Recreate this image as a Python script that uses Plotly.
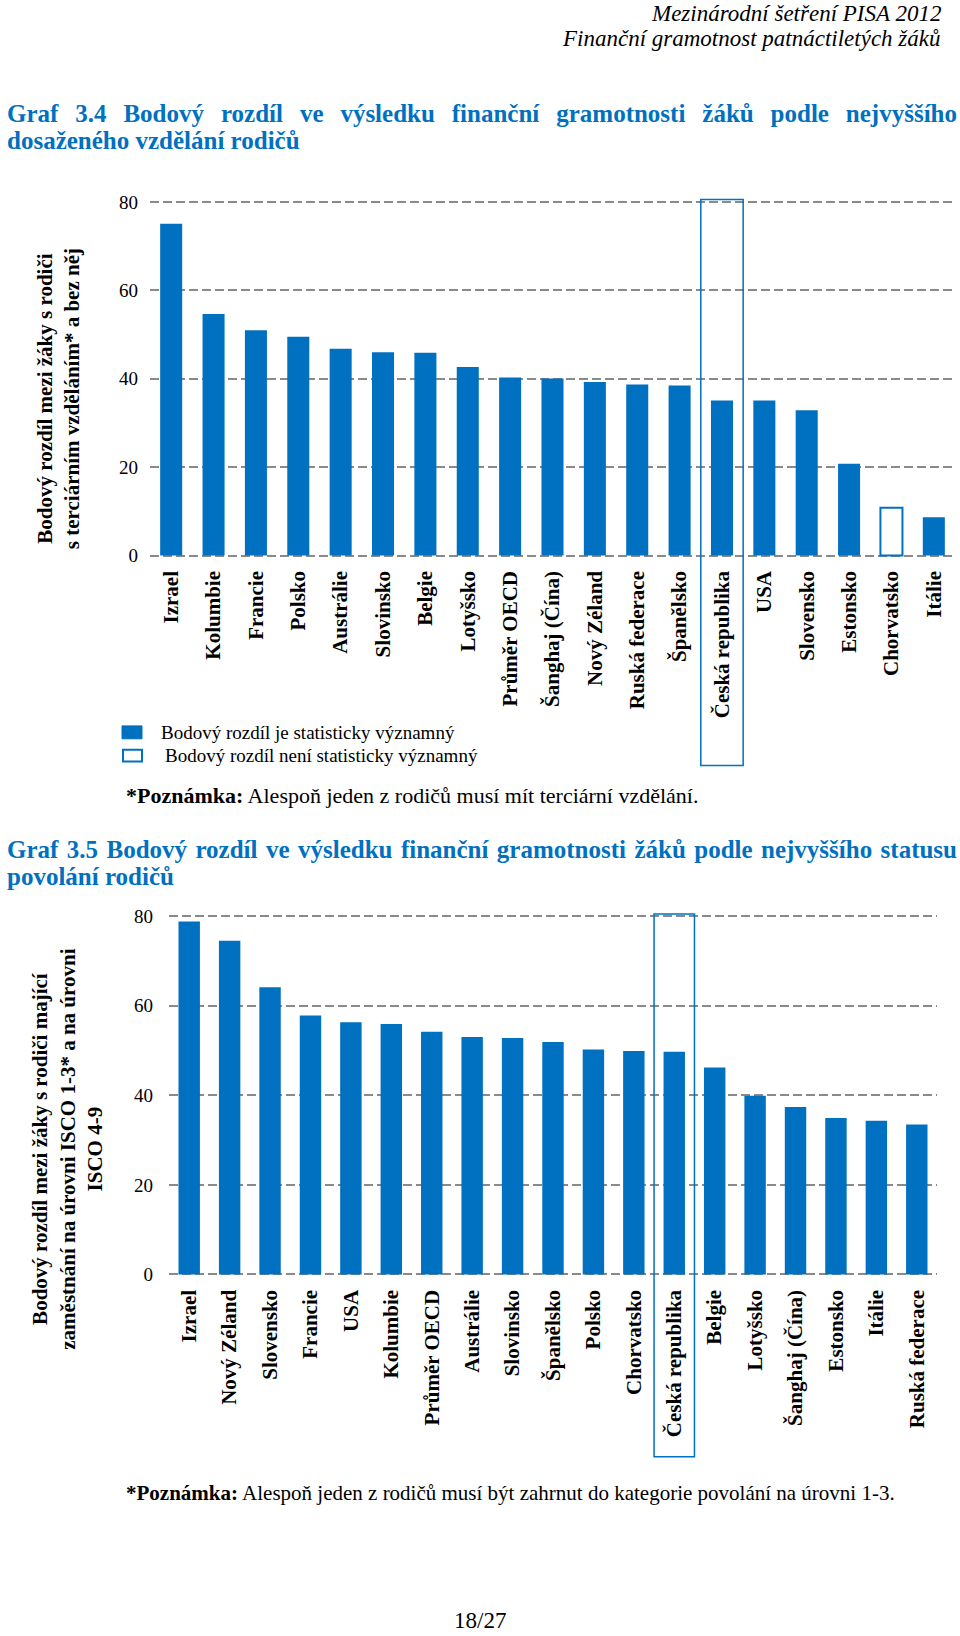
import plotly.graph_objects as go

W, H = 960, 1636
BLUE = "#0070C0"
GRID = "#8a8a8a"
SERIF = "Liberation Serif"

# ---------------- data ----------------
cat1 = ["Izrael", "Kolumbie", "Francie", "Polsko", "Austrálie", "Slovinsko", "Belgie",
        "Lotyšsko", "Průměr OECD", "Šanghaj (Čína)", "Nový Zéland", "Ruská federace",
        "Španělsko", "Česká republika", "USA", "Slovensko", "Estonsko", "Chorvatsko", "Itálie"]
val1 = [75.1, 54.7, 51.0, 49.5, 46.8, 46.0, 45.9, 42.7, 40.3, 40.1, 39.3, 38.7, 38.5,
        35.1, 35.1, 32.9, 20.8, 10.8, 8.7]
sig1 = [True] * 17 + [False, True]

cat2 = ["Izrael", "Nový Zéland", "Slovensko", "Francie", "USA", "Kolumbie", "Průměr OECD",
        "Austrálie", "Slovinsko", "Španělsko", "Polsko", "Chorvatsko", "Česká republika",
        "Belgie", "Lotyšsko", "Šanghaj (Čína)", "Estonsko", "Itálie", "Ruská federace"]
val2 = [78.8, 74.5, 64.1, 57.8, 56.3, 55.9, 54.2, 53.0, 52.8, 51.9, 50.2, 49.9, 49.7,
        46.2, 39.9, 37.4, 34.9, 34.3, 33.5]
sig2 = [True] * 19

yticks = [0, 20, 40, 60, 80]
highlight = "Česká republika"

legend_labels = ["Bodový rozdíl je statisticky významný", "Bodový rozdíl není statisticky významný"]

title1 = ["Graf 3.4 Bodový rozdíl ve výsledku finanční gramotnosti žáků podle nejvyššího",
          "dosaženého vzdělání rodičů"]
title2 = ["Graf 3.5 Bodový rozdíl ve výsledku finanční gramotnosti žáků podle nejvyššího statusu",
          "povolání rodičů"]


def fx(px):
    return px / W


def fy(py):
    return 1 - py / H


PAD = 0.5  # value padding so that 0 and 80 gridlines are drawn


def ydomain(py0, py80):
    s = (py0 - py80) / 80.0
    return [fy(py0 + PAD * s), fy(py80 - PAD * s)]


fig = go.Figure()

fig.add_trace(go.Bar(
    x=cat1, y=val1, xaxis="x", yaxis="y", width=0.52,
    marker=dict(color=[BLUE if s else "white" for s in sig1],
                line=dict(color=BLUE, width=[0 if s else 2 for s in sig1])),
    showlegend=False, hoverinfo="x+y"))

fig.add_trace(go.Bar(
    x=cat2, y=val2, xaxis="x2", yaxis="y2", width=0.53,
    marker=dict(color=[BLUE if s else "white" for s in sig2],
                line=dict(color=BLUE, width=[0 if s else 2 for s in sig2])),
    showlegend=False, hoverinfo="x+y"))

xcommon = dict(type="category", tickangle=-90, showgrid=False, zeroline=False, showline=False,
               ticks="", ticklabelstandoff=8,
               tickfont=dict(family=SERIF, size=21, color="black", weight="bold"))
ycommon = dict(range=[-PAD, 80 + PAD], tickvals=yticks, showgrid=True, gridcolor=GRID,
               gridwidth=1.5, griddash="9px,4px", zeroline=False, showline=False, ticks="",
               tickfont=dict(family=SERIF, size=19, color="black"))

fig.update_layout(
    width=W, height=H, margin=dict(l=0, r=0, t=0, b=0),
    paper_bgcolor="white", plot_bgcolor="white",
    xaxis=dict(domain=[fx(150), fx(955)], anchor="y", range=[-0.5, len(cat1) - 0.5], **xcommon),
    yaxis=dict(domain=ydomain(553, 196), anchor="x", ticklabelstandoff=11, **ycommon),
    xaxis2=dict(domain=[fx(169), fx(937)], anchor="y2", range=[-0.5, len(cat2) - 0.5], **xcommon),
    yaxis2=dict(domain=ydomain(1279, 917), anchor="x2", ticklabelstandoff=15, **ycommon),
)

shapes = []
i1 = cat1.index(highlight)
shapes.append(dict(type="rect", xref="x", yref="paper", x0=i1 - 0.5, x1=i1 + 0.5,
                   y0=fy(765), y1=fy(193.5), line=dict(color=BLUE, width=1.5),
                   fillcolor="rgba(0,0,0,0)", layer="above"))
i2 = cat2.index(highlight)
shapes.append(dict(type="rect", xref="x2", yref="paper", x0=i2 - 0.5, x1=i2 + 0.5,
                   y0=fy(1463), y1=fy(915), line=dict(color=BLUE, width=1.5),
                   fillcolor="rgba(0,0,0,0)", layer="above"))
# legend swatches
shapes.append(dict(type="rect", xref="paper", yref="paper", x0=fx(122), x1=fx(142),
                   y0=fy(738), y1=fy(725), line=dict(color=BLUE, width=1), fillcolor=BLUE))
shapes.append(dict(type="rect", xref="paper", yref="paper", x0=fx(123), x1=fx(142),
                   y0=fy(761), y1=fy(749), line=dict(color=BLUE, width=2), fillcolor="white"))
fig.update_layout(shapes=shapes)

ann = []


def text(s, x, y, size, xanchor="left", color="black", bold=False, italic=False, angle=0):
    ann.append(dict(text=s, x=fx(x), y=fy(y), xref="paper", yref="paper", xanchor=xanchor,
                    yanchor="middle", showarrow=False, textangle=angle,
                    align="left" if xanchor == "left" else "center",
                    font=dict(family=SERIF, size=size, color=color,
                              weight="bold" if bold else "normal",
                              style="italic" if italic else "normal")))


# header
text("Mezinárodní šetření PISA 2012", 943, 6, 23, xanchor="right", italic=True)
text("Finanční gramotnost patnáctiletých žáků", 943, 31, 23, xanchor="right", italic=True)

# title 3.4 (first line justified in the browser)
text(title1[0], 5, 107, 25, color=BLUE, bold=True)
text(title1[1], 5, 134, 25, color=BLUE, bold=True)

# y axis titles
text("Bodový rozdíl mezi žáky s rodiči<br>s terciárním vzděláním* a bez něj", 58, 395, 21,
     xanchor="center", bold=True, angle=-90)
text("Bodový rozdíl mezi žáky s rodiči mající<br>zaměstnání na úrovni ISCO 1-3* a na úrovni<br>ISCO 4-9",
     68, 1153, 21, xanchor="center", bold=True, angle=-90)

# legend
text(legend_labels[0], 159, 732, 19)
text(legend_labels[1], 163, 755, 19)

# notes
text("<b>*Poznámka:</b> Alespoň jeden z rodičů musí mít terciární vzdělání.", 124, 795, 22)

text(title2[0], 5, 850, 25, color=BLUE, bold=True)
text(title2[1], 5, 877, 25, color=BLUE, bold=True)

text("<b>*Poznámka:</b> Alespoň jeden z rodičů musí být zahrnut do kategorie povolání na úrovni 1-3.",
     124, 1500, 21)

text("18/27", 480, 1628, 23, xanchor="center")

fig.update_layout(annotations=ann)

justify_js = """
document.body.style.margin='0';
document.body.style.overflow='hidden';
(function(){
  var gd = document.getElementById('{plot_id}');
  var targets = [%s, %s];
  var full = 950;
  gd.querySelectorAll('text.annotation-text').forEach(function(t){
    if (targets.indexOf(t.textContent) >= 0) {
      var len = t.getComputedTextLength();
      var n = (t.textContent.match(/ /g) || []).length;
      if (n > 0 && len < full) {
        var ws = (full - len) / n;
        t.style.wordSpacing = ws + 'px';
        t.setAttribute('text-anchor', 'start');
      }
    }
  });
})();
""" % (repr(title1[0]), repr(title2[0]))

fig.write_html("out.html", config={"displayModeBar": False}, post_script=justify_js)
